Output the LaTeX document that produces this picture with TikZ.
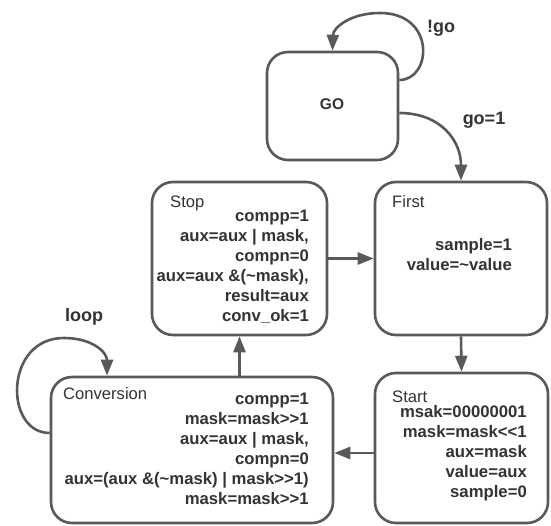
\documentclass[tikz,border=0pt]{standalone}
\usepackage{fontspec}
\setmainfont{Liberation Sans}
\usetikzlibrary{arrows.meta,calc}
\definecolor{edge}{HTML}{595959}
\definecolor{ink}{HTML}{333333}
\begin{document}
\begin{tikzpicture}[x=1pt,y=-1pt,
  state/.style={draw=edge,line width=2.6pt,rounded corners=21pt,inner sep=0pt,fill=white},
  title/.style={anchor=west,inner sep=0pt,text=ink,font=\fontsize{16.6}{20}\selectfont},
  body/.style={inner sep=0pt,text=ink,font=\bfseries\fontsize{16.7}{20}\selectfont},
  lbl/.style={inner sep=0pt,text=ink,font=\bfseries\fontsize{18}{22}\selectfont},
  arr/.style={draw=edge,line width=2.6pt,-{Triangle[length=16pt,width=12pt]}}]
% page frame
\path[use as bounding box] (0,0) rectangle (551,526);
\fill[white] (0,0) rectangle (551,526);

% states
\node[state,minimum width=131pt,minimum height=108pt] (go) at (332.5,106) {};
\node[state,minimum width=172pt,minimum height=153pt] (first) at (461,258.5) {};
\node[state,minimum width=175pt,minimum height=153pt] (stop) at (239.5,258.5) {};
\node[state,minimum width=173pt,minimum height=150pt] (start) at (461.5,448) {};
\node[state,minimum width=282pt,minimum height=146pt] (conv) at (192,450) {};

% state contents
\node[body,font=\bfseries\fontsize{15.5}{18}\selectfont] (gotext) at (332,104) {GO};

\node[title] (firsttitle) at (392,202) {First};
\node[body,align=right,anchor=north east] (firsttext) at (512,238)
  {sample=1\hspace{5pt}\\value=\textasciitilde value};

\node[title] (stoptitle) at (170,203) {Stop};
\node[body,align=right,anchor=north east] (stoptext) at (309,210)
  {compp=1\\aux=aux \textbar{} mask,\\compn=0\\aux=aux \&(\textasciitilde mask),\\result=aux\\conv\_ok=1};

\node[title] (starttitle) at (392,397) {Start};
\node[body,align=right,anchor=north east] (starttext) at (527,405)
  {msak=00000001\\mask=mask<{}<1\\aux=mask\\value=aux\\sample=0};

\node[title] (convtitle) at (63,394) {Conversion};
\node[body,align=right,anchor=north east] (convtext) at (309,393)
  {compp=1\\mask=mask>{}>1\\aux=aux \textbar{} mask,\\compn=0\\aux=(aux \&(\textasciitilde mask) \textbar{} mask>{}>1)\\mask=mask>{}>1};

% transition labels
\node[lbl] (notgo) at (441,28) {!go};
\node[lbl] (go1) at (484,120) {go=1};
\node[lbl] (loop) at (84,317) {loop};

% self loops
\draw[arr] ($(go.east)+(0,-26)$) .. controls (432,80) and (436,13) .. (380,13)
  .. controls (350,13) and (333,28) .. (go.north);
\draw[arr] ($(conv.west)+(0,-17)$) .. controls (4,433) and (4,338) .. (64,338)
  .. controls (92,338) and (107,352) .. (conv.north west -| 107,0);

% transitions
\draw[arr] ($(go.east)+(0,7)$) .. controls (440,113) and (461,140) .. (first.north);
\draw[arr] (stop.east) -- (first.west);
\draw[arr] (first.south) -- (start.north);
\draw[arr] ($(start.west)+(0,5)$) -- (conv.east |- 0,453);
\draw[arr] (stop.south |- conv.north) -- (stop.south);
\end{tikzpicture}
\end{document}
